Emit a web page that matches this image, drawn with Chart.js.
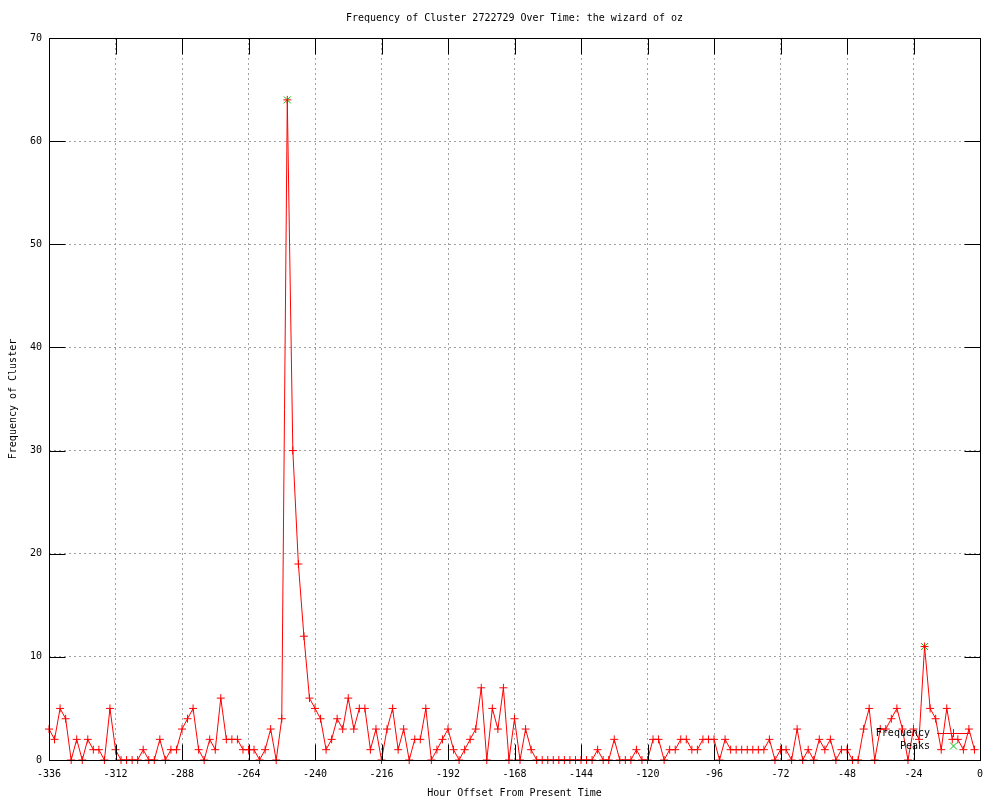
<!DOCTYPE html>
<html>
<head>
<meta charset="utf-8">
<script src="https://cdn.jsdelivr.net/npm/chart.js@4.4.1/dist/chart.umd.min.js"></script>
<style>
html,body{margin:0;padding:0;background:#fff;}
canvas{display:block;}
</style>
</head>
<body>
<canvas id="c" width="1000" height="800"></canvas>
<script>
// ---- data ----
const hours = [-336,-334,-332,-330,-328,-326,-324,-322,-320,-318,-316,-314,-312,-310,-308,-306,-304,-302,-300,-298,-296,-294,-292,-290,-288,-286,-284,-282,-280,-278,-276,-274,-272,-270,-268,-266,-264,-262,-260,-258,-256,-254,-252,-250,-248,-246,-244,-242,-240,-238,-236,-234,-232,-230,-228,-226,-224,-222,-220,-218,-216,-214,-212,-210,-208,-206,-204,-202,-200,-198,-196,-194,-192,-190,-188,-186,-184,-182,-180,-178,-176,-174,-172,-170,-168,-166,-164,-162,-160,-158,-156,-154,-152,-150,-148,-146,-144,-142,-140,-138,-136,-134,-132,-130,-128,-126,-124,-122,-120,-118,-116,-114,-112,-110,-108,-106,-104,-102,-100,-98,-96,-94,-92,-90,-88,-86,-84,-82,-80,-78,-76,-74,-72,-70,-68,-66,-64,-62,-60,-58,-56,-54,-52,-50,-48,-46,-44,-42,-40,-38,-36,-34,-32,-30,-28,-26,-24,-22,-20,-18,-16,-14,-12,-10,-8,-6,-4,-2];
const frequency = [3,2,5,4,0,2,0,2,1,1,
  0,5,1,0,0,0,0,1,0,0,
  2,0,1,1,3,4,5,1,0,2,
  1,6,2,2,2,1,1,1,0,1,
  3,0,4,64,30,19,12,6,5,4,
  1,2,4,3,6,3,5,5,1,3,
  0,3,5,1,3,0,2,2,5,0,
  1,2,3,1,0,1,2,3,7,0,
  5,3,7,0,4,0,3,1,0,0,
  0,0,0,0,0,0,0,0,0,1,
  0,0,2,0,0,0,1,0,0,2,
  2,0,1,1,2,2,1,1,2,2,
  2,0,2,1,1,1,1,1,1,1,
  2,0,1,1,0,3,0,1,0,2,
  1,2,0,1,1,0,0,3,5,0,
  3,3,4,5,3,0,3,2,11,5,
  4,1,5,2,2,1,3,1];
const peakHours = [-250, -20];
const peakValues = [64, 11];
const xTicks = [-336,-312,-288,-264,-240,-216,-192,-168,-144,-120,-96,-72,-48,-24,0];
const yTicks = [0,10,20,30,40,50,60,70];
const seriesNames = ['Frequency', 'Peaks'];
const titleText = 'Frequency of Cluster 2722729 Over Time: the wizard of oz';
const xTitle = 'Hour Offset From Present Time';
const yTitle = 'Frequency of Cluster';

const FONT = "'DejaVu Sans Mono', 'Liberation Mono', monospace";
const RED = '#ff0000';
const GREEN = '#00c000';
const TICKLEN = 16;

const freqData = hours.map((h, i) => ({x: h, y: frequency[i]}));
const peakData = peakHours.map((h, i) => ({x: h, y: peakValues[i]}));

const gnuplotDecor = {
  id: 'gnuplotDecor',
  afterDatasetsDraw(chart) {
    const ctx = chart.ctx;
    const a = chart.chartArea;
    const L = Math.round(a.left) + 0.5, R = Math.round(a.right) + 0.5;
    const T = Math.round(a.top) + 0.5, B = Math.round(a.bottom) + 0.5;
    ctx.save();
    ctx.strokeStyle = '#000';
    ctx.lineWidth = 1;
    ctx.setLineDash([]);
    ctx.beginPath();
    const xs = chart.scales.x, ys = chart.scales.y;
    xTicks.forEach(v => {
      const p = Math.round(xs.getPixelForValue(v)) + 0.5;
      ctx.moveTo(p, B); ctx.lineTo(p, B - TICKLEN);
      ctx.moveTo(p, T); ctx.lineTo(p, T + TICKLEN);
    });
    yTicks.forEach(v => {
      const p = Math.round(ys.getPixelForValue(v)) + 0.5;
      ctx.moveTo(L, p); ctx.lineTo(L + TICKLEN, p);
      ctx.moveTo(R, p); ctx.lineTo(R - TICKLEN, p);
    });
    ctx.stroke();
    ctx.strokeRect(L, T, R - L, B - T);

    // key (legend) inside plot, bottom right
    ctx.font = '10px ' + FONT;
    ctx.fillStyle = '#000';
    ctx.textAlign = 'right';
    ctx.textBaseline = 'middle';
    const kx = 930, k1 = 733, k2 = 746;
    ctx.fillText(seriesNames[0], kx, k1);
    ctx.fillText(seriesNames[1], kx, k2);
    const sx0 = 937, sx1 = 970, sc = (sx0 + sx1) / 2;
    ctx.strokeStyle = RED;
    ctx.beginPath();
    ctx.moveTo(sx0, k1 + 0.5); ctx.lineTo(sx1, k1 + 0.5);
    ctx.moveTo(sc, k1 - 4); ctx.lineTo(sc, k1 + 4);
    ctx.stroke();
    ctx.strokeStyle = GREEN;
    ctx.beginPath();
    ctx.moveTo(sc - 3.5, k2 - 3.5); ctx.lineTo(sc + 3.5, k2 + 3.5);
    ctx.moveTo(sc - 3.5, k2 + 3.5); ctx.lineTo(sc + 3.5, k2 - 3.5);
    ctx.stroke();
    ctx.restore();
  }
};

new Chart(document.getElementById('c'), {
  type: 'line',
  data: {
    datasets: [
      {
        label: seriesNames[0],
        data: freqData,
        borderColor: RED,
        borderWidth: 1,
        backgroundColor: RED,
        pointStyle: 'cross',
        pointRadius: 4,
        pointBorderWidth: 1,
        pointBorderColor: RED,
        tension: 0,
        fill: false,
        clip: false
      },
      {
        label: seriesNames[1],
        data: peakData,
        showLine: false,
        borderColor: GREEN,
        backgroundColor: GREEN,
        pointStyle: 'crossRot',
        pointRadius: 5,
        pointBorderWidth: 1,
        pointBorderColor: GREEN,
        clip: false
      }
    ]
  },
  options: {
    responsive: false,
    animation: false,
    devicePixelRatio: 1,
    events: [],
    layout: {padding: {left: 0, right: 20, top: 0, bottom: 0}},
    plugins: {
      legend: {display: false},
      tooltip: {enabled: false},
      title: {
        display: true,
        text: titleText,
        fullSize: false,
        color: '#000',
        font: {family: FONT, size: 10, weight: 'normal', lineHeight: 1.2},
        padding: {top: 12, bottom: 14}
      }
    },
    scales: {
      x: {
        type: 'linear',
        min: -336,
        max: 0,
        afterBuildTicks: s => { s.ticks = xTicks.map(v => ({value: v})); },
        ticks: {color: '#000', font: {family: FONT, size: 10}, padding: 8, maxRotation: 0, autoSkip: false},
        grid: {color: '#a0a0a0', lineWidth: 1, drawTicks: false},
        border: {display: false, dash: [2, 3]},
        title: {display: true, text: xTitle, color: '#000', font: {family: FONT, size: 10}, padding: {top: 0, bottom: 1}},
        afterFit: s => { s.height = 40; }
      },
      y: {
        type: 'linear',
        min: 0,
        max: 70,
        afterBuildTicks: s => { s.ticks = yTicks.map(v => ({value: v})); },
        ticks: {color: '#000', font: {family: FONT, size: 10}, padding: 7},
        grid: {color: '#a0a0a0', lineWidth: 1, drawTicks: false},
        border: {display: false, dash: [2, 3]},
        title: {display: true, text: yTitle, color: '#000', font: {family: FONT, size: 10}, padding: {top: 7, bottom: 0}},
        afterFit: s => { s.width = 49; }
      }
    }
  },
  plugins: [gnuplotDecor]
});
</script>
</body>
</html>
